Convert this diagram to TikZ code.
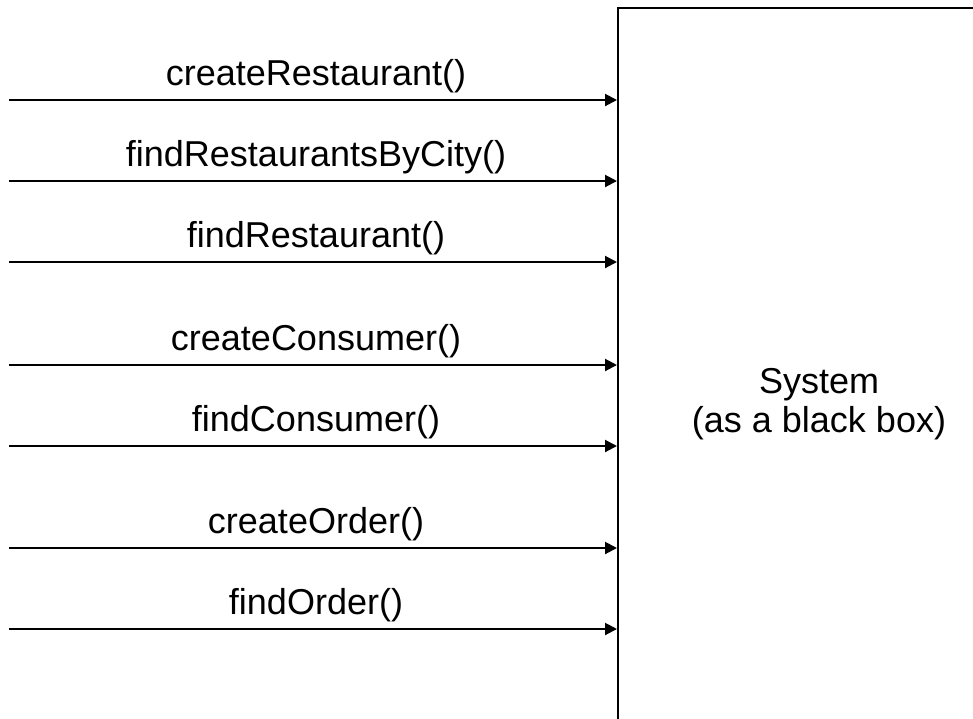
\documentclass[tikz,border=0pt]{standalone}
\usepackage{fontspec}
\setmainfont{Liberation Sans}
\usetikzlibrary{arrows.meta, positioning}

\begin{document}
\begin{tikzpicture}[x=0.5pt, y=-0.5pt,
    call/.style={line width=1pt, -{Triangle[length=6pt, width=6pt]}},
    lbl/.style={anchor=base, inner sep=0pt, font=\fontsize{18}{21.6}\selectfont},
    blackbox/.style={draw, line width=1pt, minimum width=201pt, minimum height=396pt,
                     align=center, inner sep=0pt, font=\fontsize{18}{19.5}\selectfont}]
    \useasboundingbox (0,0) rectangle (973,718);
    \clip (0,0) rectangle (973,718);
    % the system
    \node[blackbox] (sys) at (819,404) {System\\(as a black box)};
    % incoming calls
    \foreach \i/\y/\txt in {1/100/createRestaurant(), 2/181/findRestaurantsByCity(),
                            3/262/findRestaurant(), 4/365/createConsumer(),
                            5/446/findConsumer(), 6/548/createOrder(), 7/629/findOrder()} {
        \coordinate (c\i) at (9,\y);
        \node[lbl] (l\i) at (316,\y-15) {\txt};
        \draw[call] (c\i) -- (c\i -| sys.west);
    }
\end{tikzpicture}
\end{document}
